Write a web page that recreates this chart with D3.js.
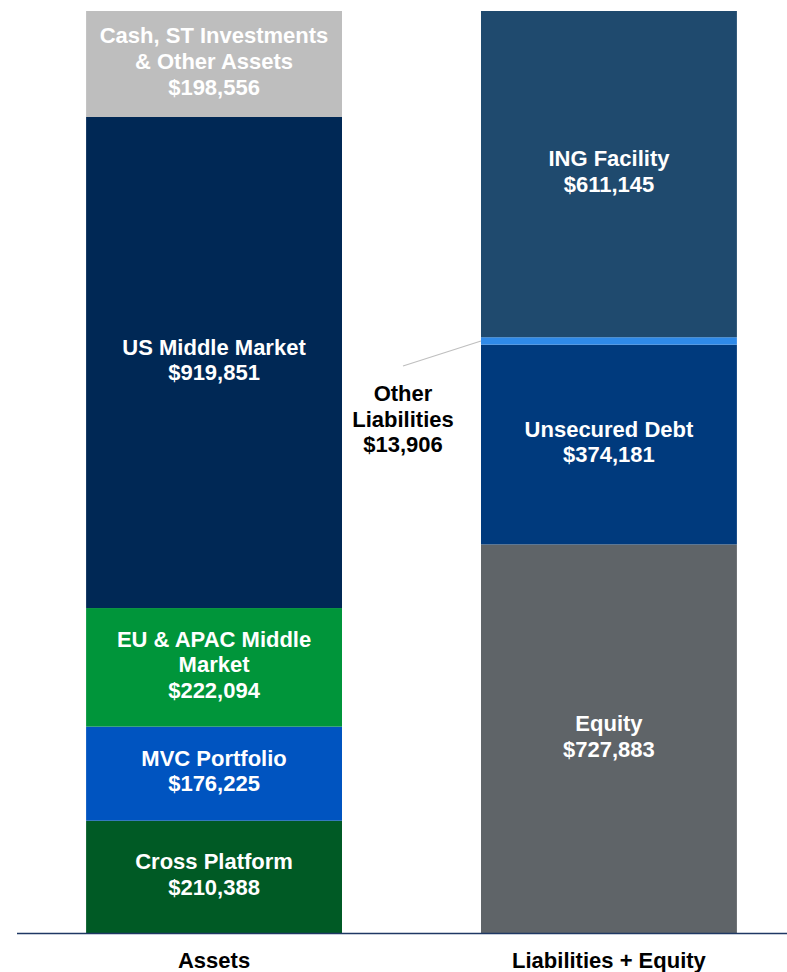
<!DOCTYPE html>
<html>
<head>
<meta charset="utf-8">
<script src="https://cdn.jsdelivr.net/npm/d3@7"></script>
<style>
  body { margin: 0; background: #fff; }
  text { font-family: "Liberation Sans", Arial, sans-serif; font-weight: bold; }
</style>
</head>
<body>
<div id="chart-area"></div>
<script>
// data (US$ thousands)
var categories = ["Assets", "Liabilities + Equity"];
var assetNames = ["Cross Platform", "MVC Portfolio", "EU & APAC Middle|Market", "US Middle Market", "Cash, ST Investments|& Other Assets"];
var assetValues = [210388, 176225, 222094, 919851, 198556];
var liabNames = ["Equity", "Unsecured Debt", "Other|Liabilities", "ING Facility"];
var liabValues = [727883, 374181, 13906, 611145];
var assetColors = ["#005a25", "#0054c0", "#00953a", "#002855", "#bebebe"];
var liabColors = ["#5f6468", "#003a7d", "#2f8ae8", "#1f4a6e"];

var width = 787, height = 972;
var plotTop = 11, plotBase = 933;
var fontSize = 22, lineH = 25.7;

var svg = d3.select("#chart-area").append("svg")
    .attr("width", width)
    .attr("height", height);

var x = d3.scaleBand()
    .domain(categories)
    .range([17, 806])
    .paddingInner(0.352)
    .paddingOuter(0.175);

var total = d3.max([d3.sum(assetValues), d3.sum(liabValues)]);
var y = d3.scaleLinear().domain([0, total]).range([plotBase, plotTop]);

function fmt(v) { return "$" + d3.format(",")(v); }

function stackOf(names, values, colors) {
  var acc = 0;
  return values.map(function(v, i) {
    var d = { name: names[i], value: v, color: colors[i], y0: acc, y1: acc + v };
    acc += v;
    return d;
  });
}

var stacks = [stackOf(assetNames, assetValues, assetColors), stackOf(liabNames, liabValues, liabColors)];

stacks.forEach(function(stack, k) {
  var cat = categories[k];
  var g = svg.append("g");

  g.selectAll("rect")
    .data(stack)
    .enter()
    .append("rect")
    .attr("x", x(cat))
    .attr("width", x.bandwidth())
    .attr("y", function(d) { return y(d.y1); })
    .attr("height", function(d) { return y(d.y0) - y(d.y1); })
    .style("fill", function(d) { return d.color; });

  // labels inside the segments (skip the thin one)
  stack.forEach(function(d) {
    if (d.value < 50000) return;
    var lines = d.name.split("|").concat([fmt(d.value)]);
    var cy = (y(d.y0) + y(d.y1)) / 2 - 3;
    var t = g.append("text")
      .attr("text-anchor", "middle")
      .attr("font-size", fontSize)
      .attr("fill", "#ffffff");
    lines.forEach(function(s, i) {
      t.append("tspan")
        .attr("x", x(cat) + x.bandwidth() / 2)
        .attr("y", cy + (i - (lines.length - 1) / 2) * lineH + 8)
        .text(s);
    });
  });
});

// call-out for the thin "Other Liabilities" slice
var thin = stacks[1][2];
var ty = (y(thin.y0) + y(thin.y1)) / 2;
var lx = 403;
svg.append("line")
  .attr("x1", lx).attr("y1", 366)
  .attr("x2", x(categories[1])).attr("y2", ty)
  .style("stroke", "#bfbfbf")
  .style("stroke-width", 1.2);

var ct = svg.append("text")
  .attr("text-anchor", "middle")
  .attr("font-size", fontSize)
  .attr("fill", "#000000");
thin.name.split("|").concat([fmt(thin.value)]).forEach(function(s, i) {
  ct.append("tspan").attr("x", lx).attr("y", 401 + i * lineH).text(s);
});

// baseline + category labels
svg.append("line")
  .attr("x1", 17).attr("x2", 787)
  .attr("y1", plotBase + 0.5).attr("y2", plotBase + 0.5)
  .style("stroke", "#1f3864")
  .style("stroke-width", 1.5);

svg.selectAll(".cat")
  .data(categories)
  .enter()
  .append("text")
  .attr("class", "cat")
  .attr("text-anchor", "middle")
  .attr("font-size", fontSize)
  .attr("x", function(d) { return x(d) + x.bandwidth() / 2; })
  .attr("y", 968)
  .text(function(d) { return d; });
</script>
</body>
</html>
